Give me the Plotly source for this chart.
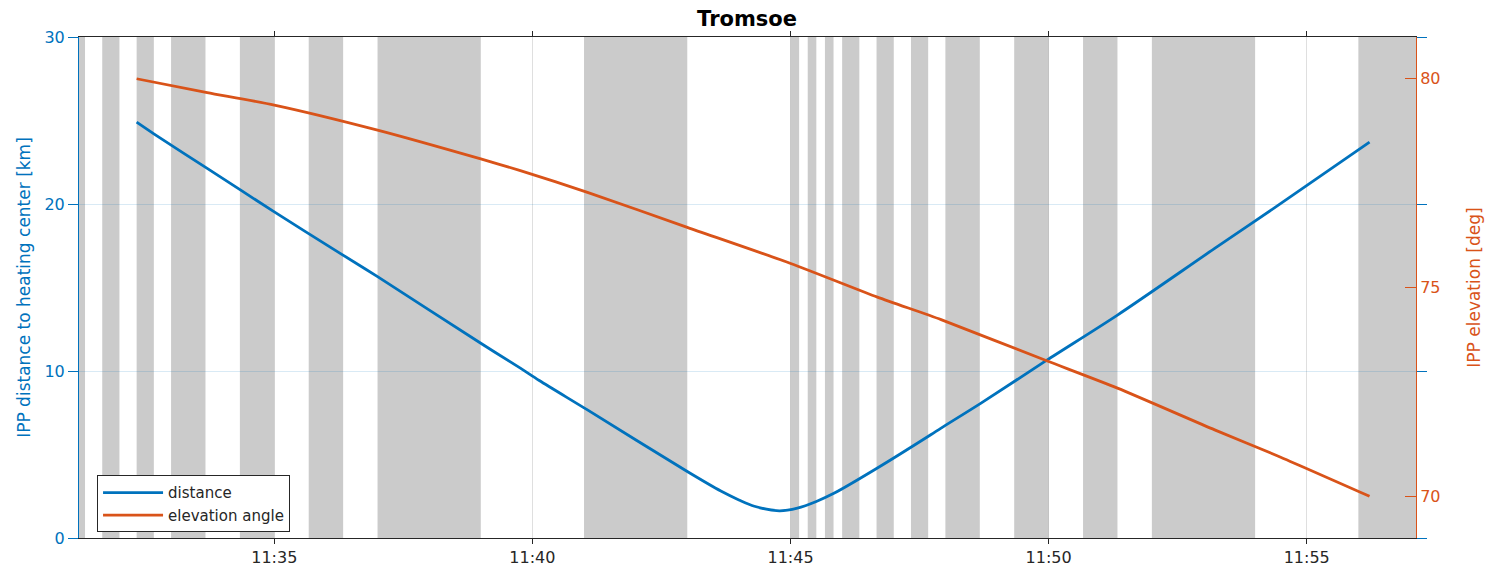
import plotly.graph_objects as go

DAY = "2021-01-01 "

# IPP distance to the heating centre (km)
dist_times = ["11:32:20", "11:32:40", "11:33:42", "11:35:00", "11:36:17", "11:37:00",
              "11:39:00", "11:39:46", "11:40:08", "11:41:04", "11:43:00", "11:43:39",
              "11:44:00", "11:44:18", "11:44:47", "11:45:08", "11:45:30", "11:45:51",
              "11:46:41", "11:47:43", "11:47:55", "11:48:41", "11:49:57", "11:51:20",
              "11:53:13", "11:54:27", "11:56:13"]
dist_km = [24.9, 24.2, 22.13, 19.53, 17.03, 15.65,
           11.66, 10.17, 9.43, 7.67, 3.98, 2.81,
           2.28, 1.90, 1.63, 1.79, 2.19, 2.69,
           4.19, 6.18, 6.58, 8.06, 10.62, 13.35,
           17.34, 19.93, 23.70]

# IPP elevation angle (deg)
elev_times = ["11:32:20", "11:33:42", "11:35:00", "11:37:00", "11:39:00", "11:39:46",
              "11:41:04", "11:43:00", "11:45:01", "11:46:41", "11:47:55", "11:49:57",
              "11:51:20", "11:53:13", "11:54:27", "11:56:13"]
elev_deg = [80.0, 79.67, 79.37, 78.77, 78.08, 77.80,
            77.28, 76.44, 75.57, 74.77, 74.23, 73.25,
            72.59, 71.59, 70.96, 70.0]

# heating-on intervals (shaded)
heating_on = [("11:31:00", "11:31:20"), ("11:31:40", "11:32:00"), ("11:32:20", "11:32:40"),
              ("11:33:00", "11:33:40"), ("11:34:20", "11:35:00"), ("11:35:40", "11:36:20"),
              ("11:37:00", "11:39:00"), ("11:41:00", "11:43:00"), ("11:45:00", "11:45:10"),
              ("11:45:20", "11:45:30"), ("11:45:40", "11:45:50"), ("11:46:00", "11:46:20"),
              ("11:46:40", "11:47:00"), ("11:47:20", "11:47:40"), ("11:48:00", "11:48:40"),
              ("11:49:20", "11:50:00"), ("11:50:40", "11:51:20"), ("11:52:00", "11:54:00"),
              ("11:56:00", "11:58:00")]

BLUE = "#0072BD"
ORANGE = "#D95319"
INK = "#262626"
FONT = "DejaVu Sans"

fig = go.Figure()
fig.add_trace(go.Scatter(x=[DAY + t for t in dist_times], y=dist_km, mode="lines",
                         name="distance",
                         line=dict(color=BLUE, width=2.8, shape="spline", smoothing=0.8),
                         yaxis="y"))
fig.add_trace(go.Scatter(x=[DAY + t for t in elev_times], y=elev_deg, mode="lines",
                         name="elevation angle",
                         line=dict(color=ORANGE, width=2.8, shape="spline", smoothing=0.6),
                         yaxis="y2"))

for start, end in heating_on:
    fig.add_shape(type="rect", xref="x", yref="paper", x0=DAY + start, x1=DAY + end,
                  y0=0, y1=1, fillcolor="#CBCBCB", line_width=0, layer="below")

fig.update_layout(
    width=1501, height=567,
    margin=dict(l=79, r=85, t=37, b=29),
    paper_bgcolor="white", plot_bgcolor="white",
    font=dict(family=FONT, size=16, color=INK),
    title=dict(text="<b>Tromsoe</b>", x=0.4977, xanchor="center", y=0.967, yanchor="middle",
               font=dict(family=FONT, size=21, color="black")),
    xaxis=dict(type="date", range=[DAY + "11:31:13", DAY + "11:57:07"],
               tick0=DAY + "11:35:00", dtick=300000, tickformat="%H:%M",
               ticks="outside", ticklen=5, tickcolor=INK,
               showline=True, linecolor=INK, linewidth=1, mirror="ticks",
               showgrid=True, gridcolor="rgba(38,38,38,0.15)", gridwidth=1,
               zeroline=False, automargin=False,
               tickfont=dict(family=FONT, size=16, color=INK)),
    yaxis=dict(range=[0, 30], tickvals=[0, 10, 20, 30],
               ticks="outside", ticklen=10, tickcolor=BLUE,
               showline=True, linecolor=BLUE, linewidth=1, mirror="ticks",
               showgrid=True, gridcolor="rgba(0,114,189,0.15)", gridwidth=1,
               zeroline=False, automargin=False,
               tickfont=dict(family=FONT, size=16, color=BLUE),
               title=dict(text="IPP distance to heating center [km]",
                          font=dict(family=FONT, size=17, color=BLUE), standoff=9)),
    yaxis2=dict(range=[69, 81], tickvals=[70, 75, 80], overlaying="y", side="right",
                ticks="inside", ticklen=11, tickcolor=ORANGE,
                showline=True, linecolor=ORANGE, linewidth=1,
                showgrid=False, zeroline=False, automargin=False,
                tickfont=dict(family=FONT, size=16, color=ORANGE),
                title=dict(text="IPP elevation [deg]",
                           font=dict(family=FONT, size=17, color=ORANGE), standoff=28)),
    legend=dict(x=0.0135, y=0.125, xanchor="left", yanchor="top",
                bgcolor="white", bordercolor=INK, borderwidth=1,
                font=dict(family=FONT, size=15, color=INK),
                itemwidth=60, tracegroupgap=0),
    showlegend=True,
)

fig.write_html("out.html")
